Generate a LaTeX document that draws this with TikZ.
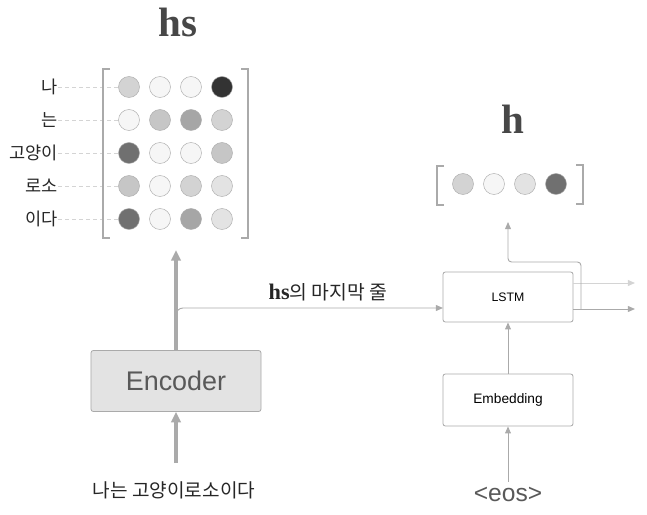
\documentclass[tikz,border=0pt]{standalone}
\usepackage{fontspec}
\setsansfont{Liberation Sans}
\newfontfamily\kr{Noto Sans CJK KR}
\newfontfamily\hsfont{Liberation Serif}
\usetikzlibrary{arrows.meta}

\definecolor{linegray}{HTML}{AAAAAA}
\definecolor{palegray}{HTML}{D4D4D4}
\definecolor{g0}{HTML}{F6F6F6}
\definecolor{g1}{HTML}{E3E3E3}
\definecolor{g2}{HTML}{D3D3D3}
\definecolor{g3}{HTML}{C6C6C6}
\definecolor{g4}{HTML}{A6A6A6}
\definecolor{g5}{HTML}{707070}
\definecolor{g6}{HTML}{333333}

\begin{document}
\begin{tikzpicture}[x=0.03cm, y=-0.03cm, >=Latex,
  every node/.style={inner sep=0pt},
  title/.style={font=\hsfont\fontsize{35}{40}\selectfont\bfseries, text=g6!90},
  lbl/.style={font=\kr\fontsize{15}{18}\selectfont, text=black!85},
  dot/.style={draw=linegray, line width=0.4pt, circle, minimum size=0.63cm},
  bracket/.style={draw=linegray, line width=1.2pt},
  dashline/.style={draw=palegray, dashed, line width=0.6pt},
  box/.style={draw=linegray, rounded corners=2pt, line width=0.7pt, fill=white, minimum width=3.9cm, font=\sffamily\fontsize{10.5}{12}\selectfont},
  thickarrow/.style={draw=linegray, line width=2.6pt, -{Triangle[length=9pt, width=8pt]}},
  thinarrow/.style={draw=linegray, line width=0.8pt, -{Triangle[length=6pt, width=5pt]}}]
  \useasboundingbox (0,0) rectangle (647,515);

  % hs matrix
  \node[title] (hs) at (178,22) {hs};
  \foreach \r/\y/\lab/\cols in {1/87/나/{g2,g0,g0,g6}, 2/120/는/{g0,g3,g4,g2},
      3/153/고양이/{g5,g0,g0,g3}, 4/186/로소/{g3,g0,g2,g1}, 5/219/이다/{g5,g0,g4,g1}}{
    \node[lbl, anchor=east] (l\r) at (58,\y) {\lab};
    \foreach \c [count=\i] in \cols
      \node[dot, fill=\c] (c\r-\i) at ({98+31*\i},\y) {};
    \draw[dashline] (l\r.east) -- (c\r-1.west);
  }
  \draw[bracket] (110,69) -- (103,69) -- (103,238) -- (110,238);
  \draw[bracket] (241,69) -- (248,69) -- (248,238) -- (241,238);

  % h vector
  \node[title] (h) at (513,119) {h};
  \foreach \c [count=\i] in {g2,g0,g1,g5}
    \node[dot, fill=\c] (h\i) at ({432+31*\i},184) {};
  \draw[bracket] (444,166) -- (437,166) -- (437,205) -- (444,205);
  \draw[bracket] (576,165) -- (583,165) -- (583,204) -- (576,204);

  % encoder side
  \node[box, fill=g1, minimum width=5.1cm, minimum height=1.83cm, font=\sffamily\fontsize{23}{26}\selectfont, text=black!65] (enc) at (176,381) {Encoder};
  \node[lbl, font=\kr\fontsize{16.3}{18}\selectfont] (sent) at (174,490) {나는 고양이로소이다};
  \coordinate (hsin) at (176,250);
  \coordinate (sentup) at (176,463);
  \coordinate (split) at (176,324);
  \coordinate (lstmin) at (443,308);
  \draw[thickarrow] (enc.north) -- (hsin);
  \draw[thickarrow] (sentup) -- (enc.south);
  \draw[thinarrow, rounded corners=6pt] (split) |- (lstmin);
  \node[lbl, anchor=base, font=\kr\fontsize{16.5}{18}\selectfont] (lastrow) at (328,300) {{\hsfont\bfseries\fontsize{19}{20}\selectfont hs}의 마지막 줄};

  % decoder side
  \node[box, minimum height=1.5cm] (lstm) at (508,297) {LSTM};
  \node[box, minimum height=1.56cm, font=\sffamily\fontsize{11.7}{13}\selectfont] (emb) at (508,400) {Embedding};
  \node[font=\sffamily\fontsize{21}{24}\selectfont, text=black!65] (eos) at (508,494) {<eos>};
  \draw[thinarrow] (emb.north) -- (lstm.south);
  \draw[thinarrow, shorten <=4pt] (eos.north) -- (emb.south);
  \coordinate (out1) at (635,283);
  \coordinate (out2) at (635,309);
  \coordinate (hsplit) at (581,309);
  \coordinate (hturn) at (508,262);
  \coordinate (hin) at (508,222);
  \draw[thinarrow, draw=palegray] (lstm.east |- out1) -- (out1);
  \draw[thinarrow] (lstm.east |- out2) -- (out2);
  \draw[thinarrow, rounded corners=3pt] (hsplit) |- (hturn) -- (hin);
\end{tikzpicture}
\end{document}
